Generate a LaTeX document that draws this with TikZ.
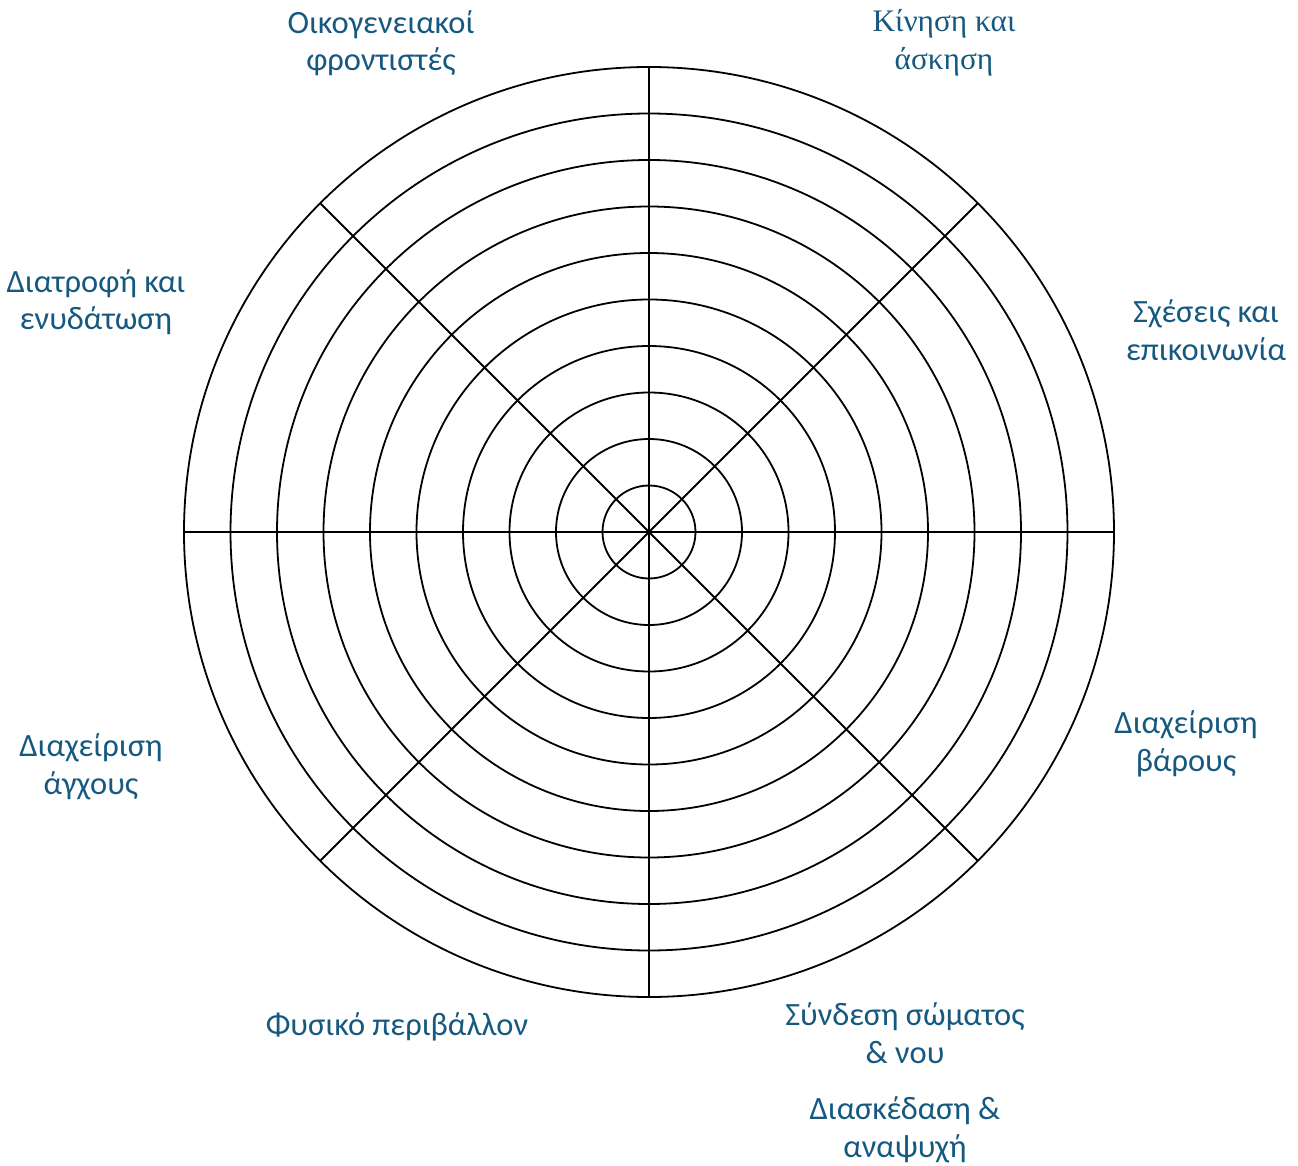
\documentclass[tikz,border=0pt]{standalone}
\usepackage{fontspec}
\setmainfont{Carlito}
\newfontfamily\serifgr{Liberation Serif}
\definecolor{lbl}{RGB}{22,89,128}
\begin{document}
\begin{tikzpicture}[x=1pt,y=-1pt,
  grid/.style={line width=1.8pt,black},
  lab/.style={text=lbl,align=center,font=\fontsize{32.5}{37.5}\selectfont,inner sep=0pt}]
\useasboundingbox (0,0) rectangle (1298,1166);
\coordinate (c) at (649,532);
\foreach \r in {46.5,93,139.5,186,232.5,279,325.5,372,418.5,465}
  \draw[grid] (c) circle[radius=\r];
\foreach \a in {0,45,...,315}
  \draw[grid] (c) -- ++(\a:465);
\node[lab] (n1) at (381,43) {Οικογενειακοί\\φροντιστές};
\node[lab,font=\serifgr\fontsize{31.3}{37.5}\selectfont] (n2) at (944,43) {Κίνηση και\\άσκηση};
\node[lab] (n3) at (96,302) {Διατροφή και\\ενυδάτωση};
\node[lab] (n4) at (1206,330) {Σχέσεις και\\επικοινωνία};
\node[lab] (n5) at (1186,744) {Διαχείριση\\βάρους};
\node[lab] (n6) at (91,767) {Διαχείριση\\άγχους};
\node[lab] (n7) at (397,1027) {Φυσικό περιβάλλον};
\node[lab] (n8) at (905,1033) {Σύνδεση σώματος\\\& νου};
\node[lab] (n9) at (905,1130) {Διασκέδαση \&\\αναψυχή};
\end{tikzpicture}
\end{document}
